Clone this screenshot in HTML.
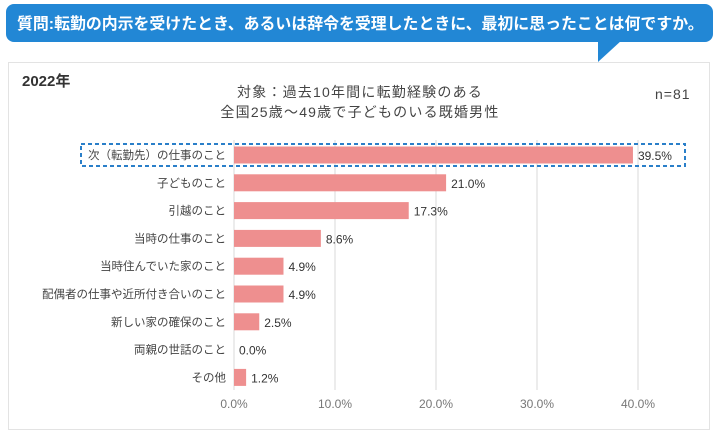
<!DOCTYPE html>
<html><head><meta charset="utf-8"><style>
body{margin:0;width:721px;height:437px;background:#fff;font-family:"Liberation Sans","Noto Sans CJK JP",sans-serif;position:relative;overflow:hidden}
.abs{position:absolute}
</style></head><body>
<div class="abs" style="left:6px;top:4px;width:707px;height:38px;background:#2287d5;border-radius:8px;"></div>
<svg class="abs" style="left:0;top:0" width="721" height="70"><polygon points="598,40 622,40 598,62" fill="#2287d5"/></svg>
<div class="abs" style="left:17px;top:11px;color:#fff;font-size:15.9px;font-weight:bold;white-space:nowrap;letter-spacing:0px">質問:転勤の内示を受けたとき、あるいは辞令を受理したときに、最初に思ったことは何ですか。</div>
<div class="abs" style="left:8px;top:62px;width:702px;height:368px;border:1px solid #e3e3e3;box-sizing:border-box"></div>
<div class="abs" style="left:22px;top:70px;font-size:15px;font-weight:bold;color:#333">2022年</div>
<div class="abs" style="left:160px;top:82px;width:400px;text-align:center;font-size:14px;line-height:20px;color:#444;letter-spacing:1.2px">対象：過去10年間に転勤経験のある<br>全国25歳～49歳で子どものいる既婚男性</div>
<div class="abs" style="left:655px;top:86px;font-size:14px;color:#444;letter-spacing:1px">n=81</div>
<svg class="abs" id="chart" style="left:0;top:0" width="721" height="437"></svg>
<script>
const categories=["次（転勤先）の仕事のこと","子どものこと","引越のこと","当時の仕事のこと","当時住んでいた家のこと","配偶者の仕事や近所付き合いのこと","新しい家の確保のこと","両親の世話のこと","その他"];
const values=[39.5,21.0,17.3,8.6,4.9,4.9,2.5,0.0,1.2];
const ticks=[0,10,20,30,40];
const tickLabels=["0.0%","10.0%","20.0%","30.0%","40.0%"];
const svg=document.getElementById('chart');const NS="http://www.w3.org/2000/svg";
const x=v=>234+v*10.1;
const y=i=>155+i*27.8;
function mk(t,a){const e=document.createElementNS(NS,t);for(const k in a)e.setAttribute(k,a[k]);svg.appendChild(e);return e;}
ticks.forEach((t,i)=>{const l=mk('line',{x1:x(t),x2:x(t),y1:140,y2:390,stroke:'#d8d8d8','stroke-width':1});


const tx=mk('text',{x:x(t),y:408,'text-anchor':'middle','font-size':12,fill:'#777'});tx.textContent=tickLabels[i];

});
categories.forEach((c,i)=>{const r=mk('rect',{x:x(0),y:y(i)-8.5,width:x(values[i])-x(0),height:17,fill:'#ee8f8f'});


const l=mk('text',{x:226,y:y(i)+4,'text-anchor':'end','font-size':11.5,fill:'#444'});l.textContent=c;


const v=mk('text',{x:x(values[i])+5,y:y(i)+5,'font-size':12,fill:'#333'});v.textContent=values[i].toFixed(1)+'%';

});
const h=mk('rect',{x:81,y:y(0)-11,width:604,height:22,fill:'none',stroke:'#2a7fc9','stroke-width':2,'stroke-dasharray':'4,3'});


</script>
</body></html>
